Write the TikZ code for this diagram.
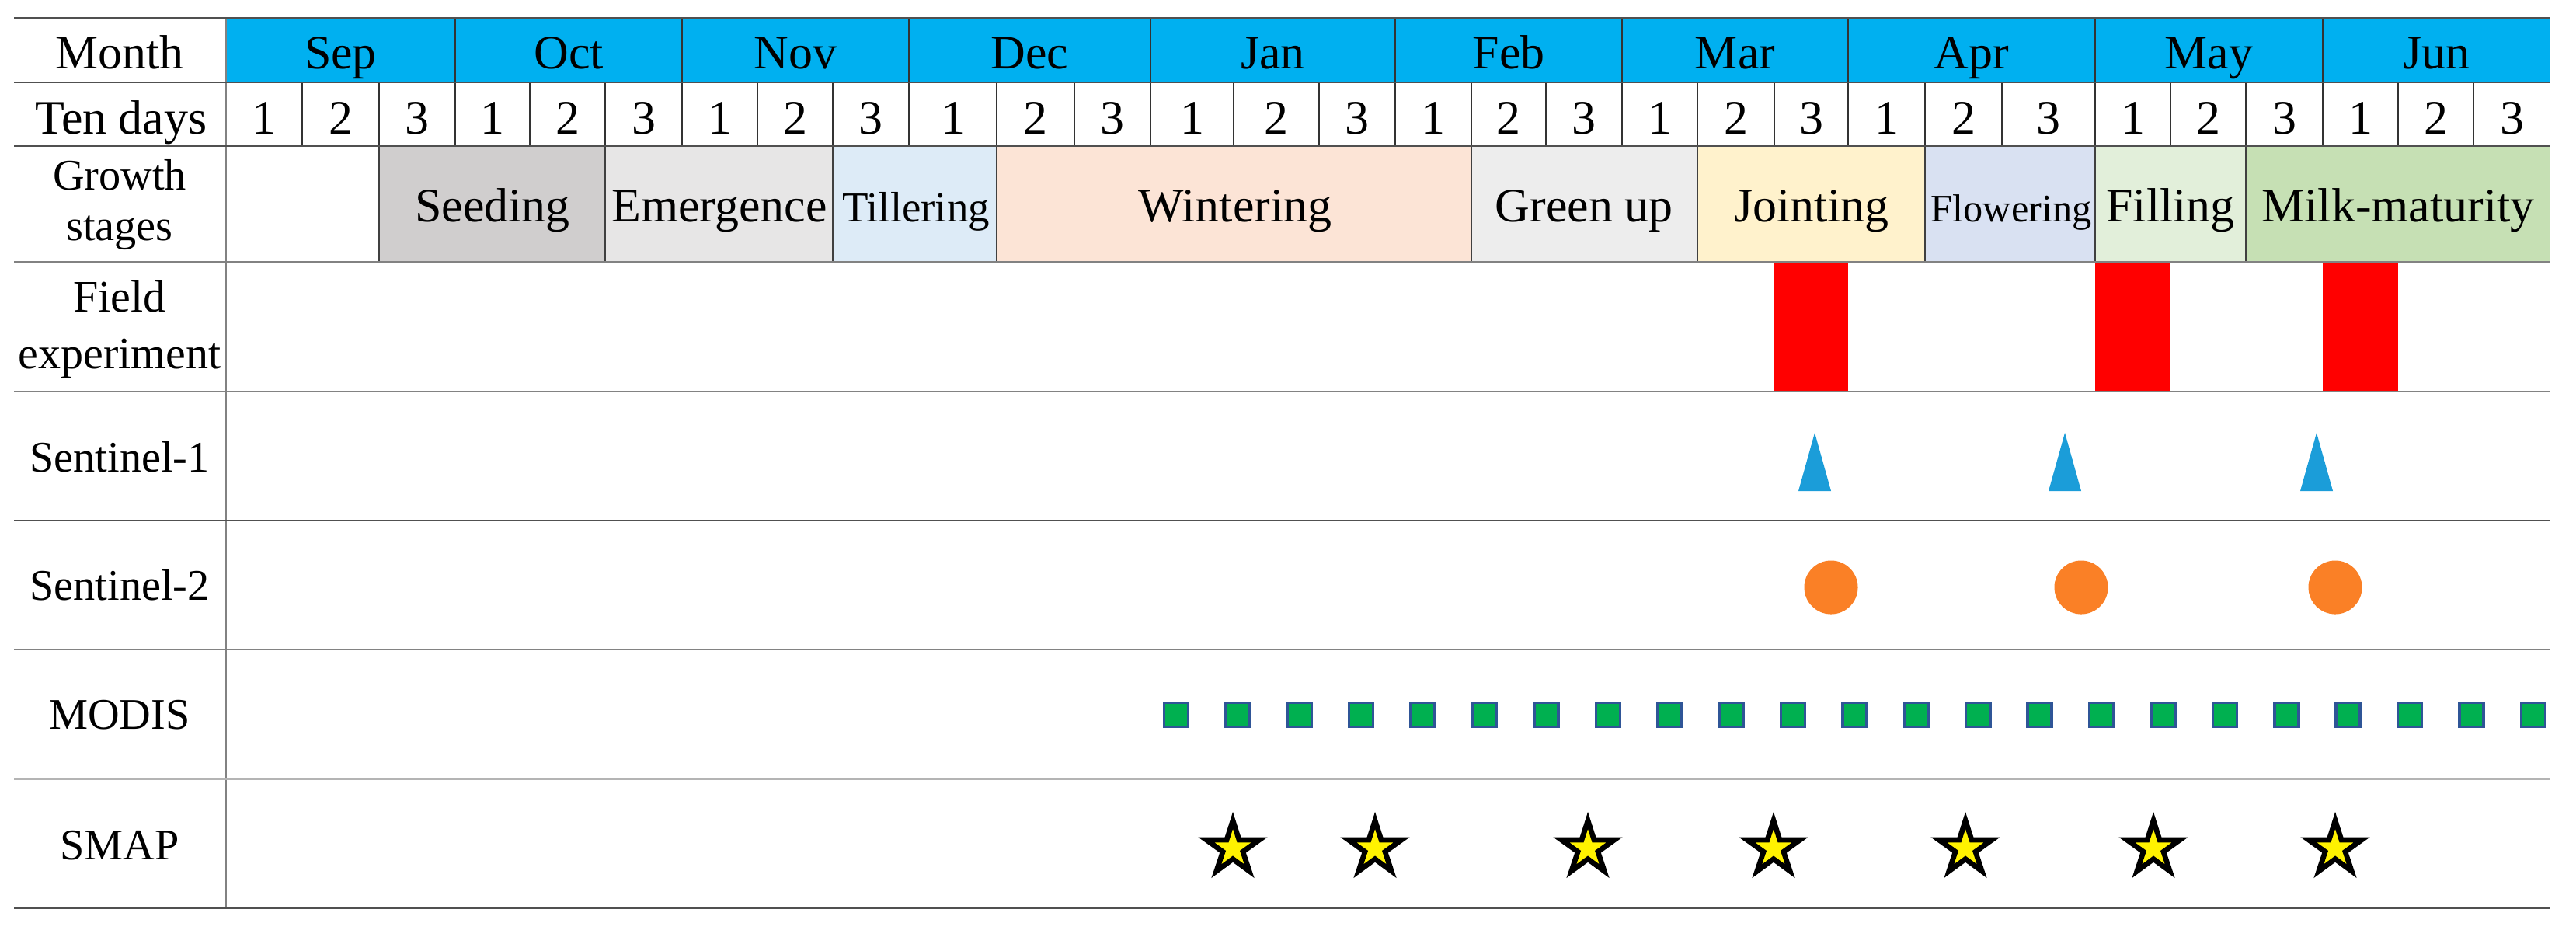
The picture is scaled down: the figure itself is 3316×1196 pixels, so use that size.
\documentclass[tikz,border=0pt]{standalone}
\usepackage{fontspec}
\setmainfont{Liberation Serif}
\usetikzlibrary{shapes.geometric}
\definecolor{monthblue}{RGB}{0,176,240}
\definecolor{cSeed}{RGB}{208,206,206}
\definecolor{cEmer}{RGB}{231,230,230}
\definecolor{cTill}{RGB}{221,235,247}
\definecolor{cWint}{RGB}{252,228,214}
\definecolor{cGreen}{RGB}{237,237,237}
\definecolor{cJoint}{RGB}{255,242,204}
\definecolor{cFlow}{RGB}{217,225,242}
\definecolor{cFill}{RGB}{226,239,218}
\definecolor{cMilk}{RGB}{198,224,180}
\definecolor{sOneBlue}{RGB}{27,157,217}
\definecolor{sTwoOrange}{RGB}{250,128,38}
\definecolor{modisGreen}{RGB}{0,176,80}
\definecolor{modisEdge}{RGB}{47,85,151}
\definecolor{lineDark}{RGB}{80,80,80}
\definecolor{lineMid}{RGB}{130,130,130}
\definecolor{lineLight}{RGB}{180,180,180}
\tikzset{
  bigtxt/.style={font=\fontsize{17.6}{20}\selectfont, inner sep=0pt, anchor=base},
  labtxt/.style={font=\fontsize{16}{19}\selectfont, inner sep=0pt, anchor=base},
  hline/.style={line width=0.8pt},
  vthin/.style={line width=0.55pt, draw=black!80},
  starmk/.style={star, star points=5, star point ratio=2.65, minimum size=0.72cm, inner sep=0pt, draw=black, line width=1.9pt, fill=yellow},
  circmk/.style={circle, fill=sTwoOrange, minimum size=0.69cm, inner sep=0pt},
  sqmk/.style={rectangle, draw=modisEdge, line width=1pt, fill=modisGreen, minimum size=0.31cm, inner sep=0pt},
}
\begin{document}
\begin{tikzpicture}[x=0.01cm,y=-0.01cm]
\useasboundingbox[fill=white] (0,0) rectangle (3316,1196);

% month row fill
\fill[monthblue] (291,23) rectangle (3283,106);

% growth stage fills
\foreach \a/\b/\c in {488/779/cSeed, 779/1072/cEmer, 1072/1283/cTill, 1283/1894/cWint, 1894/2185/cGreen, 2185/2478/cJoint, 2478/2697/cFlow, 2697/2891/cFill, 2891/3283/cMilk}
  \fill[\c] (\a,188) rectangle (\b,337);

% field experiment bars
\foreach \a/\b in {2284/2379, 2697/2794, 2990/3087}
  \fill[red] (\a,337) rectangle (\b,504);

% month separators
\foreach \x in {586,878,1170,1481,1796,2088,2379,2697,2990}
  \draw[vthin] (\x,23) -- (\x,106);
% ten-day separators
\foreach \x in {389,488,586,682,779,878,975,1072,1170,1283,1383,1481,1588,1698,1796,1894,1990,2088,2185,2284,2379,2478,2577,2697,2794,2891,2990,3087,3184}
  \draw[vthin] (\x,106) -- (\x,188);
% stage separators
\foreach \x in {488,779,1072,1283,1894,2185,2478,2697,2891}
  \draw[line width=0.7pt, draw=black!75] (\x,188) -- (\x,337);

% left column line
\draw[line width=0.7pt, lineMid] (291,23) -- (291,1169);

% horizontal lines
\draw[hline, lineDark] (18,23) -- (3283,23);
\draw[hline, lineDark] (18,106) -- (3283,106);
\draw[hline, lineDark] (18,188) -- (3283,188);
\draw[hline, lineMid] (18,337) -- (3283,337);
\draw[hline, lineMid] (18,504) -- (3283,504);
\draw[hline, lineDark] (18,670) -- (3283,670);
\draw[hline, lineMid] (18,836) -- (3283,836);
\draw[hline, lineLight] (18,1003) -- (3283,1003);
\draw[hline, lineDark] (18,1169) -- (3283,1169);

% left labels
\node[bigtxt] (lMonth) at (154,88) {Month};
\node[bigtxt] (lTen) at (156,172) {Ten days};
\node[font=\fontsize{16}{19}\selectfont, align=center, inner sep=0pt] (lGrowth) at (154,264) {Growth\\[-0.5pt]stages};
\node[font=\fontsize{16.5}{20.8}\selectfont, align=center, inner sep=0pt] (lField) at (154,424) {Field\\experiment};
\node[labtxt] (lS1) at (154,607) {Sentinel-1};
\node[labtxt] (lS2) at (154,772) {Sentinel-2};
\node[labtxt] (lModis) at (154,938) {MODIS};
\node[labtxt] (lSmap) at (154,1106) {SMAP};

% month names
\foreach \x/\m [count=\i] in {438.5/Sep, 732/Oct, 1024/Nov, 1325.5/Dec, 1638.5/Jan, 1942/Feb, 2233.5/Mar, 2538/Apr, 2843.5/May, 3136.5/Jun}
  \node[bigtxt] (mon\i) at (\x,88) {\m};

% ten-day numbers
\foreach \x/\n [count=\i] in {340/1, 438.5/2, 537/3, 634/1, 730.5/2, 828.5/3, 926.5/1, 1023.5/2, 1121/3, 1226.5/1, 1333/2, 1432/3, 1534.5/1, 1643/2, 1747/3, 1845/1, 1942/2, 2039/3, 2136.5/1, 2234.5/2, 2331.5/3, 2428.5/1, 2527.5/2, 2637/3, 2745.5/1, 2842.5/2, 2940.5/3, 3038.5/1, 3135.5/2, 3233.5/3}
  \node[bigtxt] (td\i) at (\x,172) {\n};

% growth stage names
\node[bigtxt] (gSeed) at (634,285) {Seeding};
\node[bigtxt] (gEmer) at (926,285) {Emergence};
\node[bigtxt, font=\fontsize{15.6}{18}\selectfont] (gTill) at (1179,285) {Tillering};
\node[bigtxt] (gWint) at (1590,285) {Wintering};
\node[bigtxt] (gGreen) at (2039,285) {Green up};
\node[bigtxt] (gJoint) at (2332,285) {Jointing};
\node[bigtxt, font=\fontsize{14.3}{17}\selectfont] (gFlow) at (2589,285) {Flowering};
\node[bigtxt] (gFill) at (2794,285) {Filling};
\node[bigtxt] (gMilk) at (3087,285) {Milk-maturity};

% Sentinel-1 triangles
\foreach \x in {2336,2658,2982}
  \fill[sOneBlue] (\x-21,632) -- (\x,557) -- (\x+21,632) -- cycle;

% Sentinel-2 circles
\foreach \x [count=\i] in {2357,2679,3006}
  \node[circmk] (sc\i) at (\x,756) {};

% MODIS squares
\foreach \i in {0,...,22}
  \node[sqmk] (mq\i) at ({1514+79.4*\i},920) {};

% SMAP stars
\foreach \x [count=\i] in {1587,1770,2044,2283,2530,2772,3006}
  \node[starmk] (st\i) at (\x,1092) {};

\end{tikzpicture}
\end{document}
